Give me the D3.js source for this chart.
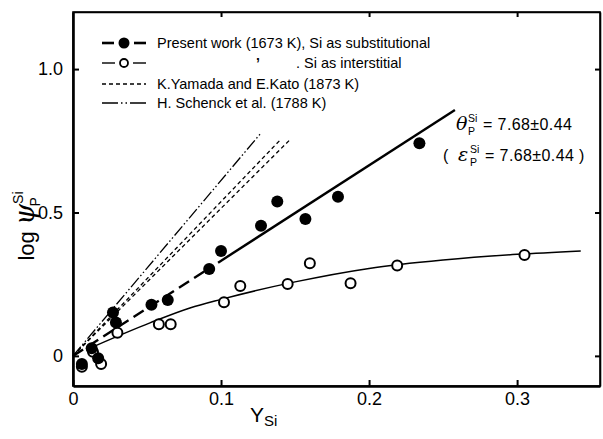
<!DOCTYPE html>
<html>
<head>
<meta charset="utf-8">
<script src="https://cdn.jsdelivr.net/npm/d3@7"></script>
<style>
  body { margin: 0; background: #fff; }
  svg { font-family: "Liberation Sans", Arial, sans-serif; }
</style>
</head>
<body>
<svg id="chart" width="603" height="439"></svg>
<script>
// substitutional (filled) points
const subX = [0.006, 0.0126, 0.017, 0.027, 0.029, 0.053, 0.064, 0.092, 0.100, 0.127, 0.138, 0.157, 0.179, 0.234];
const subY = [-0.028, 0.027, -0.008, 0.151, 0.116, 0.178, 0.195, 0.303, 0.366, 0.454, 0.538, 0.477, 0.555, 0.741];
// interstitial (open) points
const intX = [0.006, 0.0135, 0.019, 0.030, 0.058, 0.066, 0.102, 0.113, 0.145, 0.160, 0.1875, 0.219, 0.305];
const intY = [-0.038, 0.014, -0.028, 0.081, 0.110, 0.110, 0.187, 0.244, 0.251, 0.323, 0.253, 0.315, 0.352];
// fitted line for substitutional, dashed part then solid part
const fitDashX = [0, 0.094];
const fitDashY = [0, 0.312];
const fitSolidX = [0.098, 0.258];
const fitSolidY = [0.325, 0.857];
// curve through interstitial points
const curveX = [0.015, 0.052, 0.079, 0.100, 0.150, 0.200, 0.250, 0.300, 0.343];
const curveY = [0.035, 0.115, 0.167, 0.197, 0.258, 0.305, 0.334, 0.354, 0.366];
// literature lines (from origin)
const yamadaX = [[0, 0.140], [0, 0.147]];
const yamadaY = [[0, 0.753], [0, 0.756]];
const schenckX = [0, 0.127];
const schenckY = [0, 0.777];

const xTicks = [0, 0.1, 0.2, 0.3];
const xTickLabels = ["0", "0.1", "0.2", "0.3"];
const yTicks = [0, 0.5, 1.0];
const yTickLabels = ["0", "0.5", "1.0"];

const legendLabels = [
  "Present work (1673 K),  Si as substitutional",
  "",
  "K.Yamada and E.Kato (1873 K)",
  "H. Schenck et al. (1788 K)"
];

const svg = d3.select("#chart");
const plotL = 73, plotR = 600, plotT = 12, plotB = 386;

const x = d3.scaleLinear().domain([0, 0.356]).range([plotL, plotR]);
const y = d3.scaleLinear().domain([-0.105, 1.199]).range([plotB, plotT]);

const zip = (a, b) => a.map((v, i) => [v, b[i]]);
const line = d3.line().x(d => x(d[0])).y(d => y(d[1]));

// frame
svg.append("rect")
  .attr("x", plotL).attr("y", plotT)
  .attr("width", plotR - plotL).attr("height", plotB - plotT)
  .attr("fill", "none").attr("stroke", "#000").attr("stroke-width", 1.6);

// axes
const xAxis = svg.append("g")
  .attr("transform", `translate(0,${plotB})`)
  .call(d3.axisBottom(x).tickValues(xTicks).tickSizeInner(-6).tickSizeOuter(0)
    .tickPadding(6).tickFormat((d, i) => xTickLabels[i]));
xAxis.select(".domain").attr("stroke-width", 2.6);
xAxis.selectAll("line").attr("stroke-width", 2);
xAxis.selectAll("text").attr("font-size", 18).attr("fill", "#000");

const xAxisTop = svg.append("g")
  .attr("transform", `translate(0,${plotT})`)
  .call(d3.axisTop(x).tickValues(xTicks.slice(1)).tickSizeInner(-5).tickSizeOuter(0).tickFormat(""));
xAxisTop.select(".domain").attr("stroke-width", 1.6);
xAxisTop.selectAll("line").attr("stroke-width", 2);

const yAxis = svg.append("g")
  .attr("transform", `translate(${plotL},0)`)
  .call(d3.axisLeft(y).tickValues(yTicks).tickSizeInner(-6).tickSizeOuter(0)
    .tickPadding(10).tickFormat((d, i) => yTickLabels[i]));
yAxis.select(".domain").attr("stroke-width", 2.6);
yAxis.selectAll("line").attr("stroke-width", 2);
yAxis.selectAll("text").attr("font-size", 18).attr("fill", "#000");

const yAxisRight = svg.append("g")
  .attr("transform", `translate(${plotR},0)`)
  .call(d3.axisRight(y).tickValues(yTicks).tickSizeInner(-5).tickSizeOuter(0).tickFormat(""));
yAxisRight.select(".domain").attr("stroke-width", 1.6);
yAxisRight.selectAll("line").attr("stroke-width", 2);

// literature lines
yamadaX.forEach((xs, i) => {
  svg.append("path").attr("d", line(zip(xs, yamadaY[i])))
    .attr("fill", "none").attr("stroke", "#000").attr("stroke-width", 1.3)
    .attr("stroke-dasharray", "4,3");
});
svg.append("path").attr("d", line(zip(schenckX, schenckY)))
  .attr("fill", "none").attr("stroke", "#000").attr("stroke-width", 1.3)
  .attr("stroke-dasharray", "12,2.5,1.5,2.5,1.5,2.5");

// fit lines
svg.append("path").attr("d", line(zip(fitDashX, fitDashY)))
  .attr("fill", "none").attr("stroke", "#000").attr("stroke-width", 2.4)
  .attr("stroke-dasharray", "12,6");
svg.append("path").attr("d", line(zip(fitSolidX, fitSolidY)))
  .attr("fill", "none").attr("stroke", "#000").attr("stroke-width", 2.4);

svg.append("path")
  .attr("d", d3.line().x(d => x(d[0])).y(d => y(d[1])).curve(d3.curveMonotoneX)(zip(curveX, curveY)))
  .attr("fill", "none").attr("stroke", "#000").attr("stroke-width", 1.5);

// points
svg.selectAll("circle.open")
  .data(zip(intX, intY))
  .enter().append("circle")
  .attr("class", "open")
  .attr("cx", d => x(d[0])).attr("cy", d => y(d[1]))
  .attr("r", 5).attr("fill", "#fff").attr("stroke", "#000").attr("stroke-width", 2);

svg.selectAll("circle.filled")
  .data(zip(subX, subY))
  .enter().append("circle")
  .attr("class", "filled")
  .attr("cx", d => x(d[0])).attr("cy", d => y(d[1]))
  .attr("r", 6).attr("fill", "#000");

// legend
const lg = svg.append("g");
const rowY = [43, 63, 84, 103];
const symX0 = 102, symX1 = 146, textX = 157;

lg.append("line").attr("x1", symX0).attr("x2", symX0 + 12).attr("y1", rowY[0]).attr("y2", rowY[0])
  .attr("stroke", "#000").attr("stroke-width", 2.6);
lg.append("line").attr("x1", symX1 - 12).attr("x2", symX1).attr("y1", rowY[0]).attr("y2", rowY[0])
  .attr("stroke", "#000").attr("stroke-width", 2.6);
lg.append("circle").attr("cx", (symX0 + symX1) / 2).attr("cy", rowY[0]).attr("r", 5.5).attr("fill", "#000");

lg.append("line").attr("x1", symX0).attr("x2", symX0 + 13).attr("y1", rowY[1]).attr("y2", rowY[1])
  .attr("stroke", "#000").attr("stroke-width", 1.4);
lg.append("line").attr("x1", symX1 - 13).attr("x2", symX1).attr("y1", rowY[1]).attr("y2", rowY[1])
  .attr("stroke", "#000").attr("stroke-width", 1.4);
lg.append("circle").attr("cx", (symX0 + symX1) / 2).attr("cy", rowY[1]).attr("r", 4)
  .attr("fill", "#fff").attr("stroke", "#000").attr("stroke-width", 1.8);

lg.append("line").attr("x1", symX0).attr("x2", symX1).attr("y1", rowY[2]).attr("y2", rowY[2])
  .attr("stroke", "#000").attr("stroke-width", 1.3).attr("stroke-dasharray", "4,3");
lg.append("line").attr("x1", symX0).attr("x2", symX1).attr("y1", rowY[3]).attr("y2", rowY[3])
  .attr("stroke", "#000").attr("stroke-width", 1.3).attr("stroke-dasharray", "16,3,1.5,3,1.5,3,16");

lg.selectAll("text.lab")
  .data(legendLabels)
  .enter().append("text")
  .attr("class", "lab")
  .attr("x", textX).attr("y", (d, i) => rowY[i] + 5)
  .attr("font-size", 14.5)
  .text(d => d);

lg.append("text").attr("x", 256).attr("y", rowY[1] + 5).attr("font-size", 14).attr("font-weight", "bold").text("\u02BC");
lg.append("text").attr("x", 296).attr("y", rowY[1] + 5).attr("font-size", 14.5).text(".  Si as interstitial");

// annotation: symbol, stacked sup/sub, value
function coeff(gx, gy, pre, sym, value) {
  const g = svg.append("g");
  if (pre) g.append("text").attr("x", gx - 15).attr("y", gy).attr("font-size", 16).text(pre);
  g.append("text").attr("x", gx).attr("y", gy)
    .attr("font-style", "italic").attr("font-size", 19).attr("font-family", "DejaVu Serif").text(sym);
  g.append("text").attr("x", gx + 12).attr("y", gy - 8).attr("font-size", 10.5).text("Si");
  g.append("text").attr("x", gx + 12).attr("y", gy + 5).attr("font-size", 10.5).text("P");
  g.append("text").attr("x", gx + 27).attr("y", gy).attr("font-size", 16)
    .attr("letter-spacing", 0.4).text(value);
}
coeff(456, 130, "", "\u03B8", "= 7.68\u00B10.44");
coeff(458, 161, "(", "\u03B5", "= 7.68\u00B10.44  )");

// axis titles
const yl = svg.append("text")
  .attr("transform", "translate(34,226) rotate(-90)")
  .attr("text-anchor", "middle")
  .attr("font-size", 22);
yl.append("tspan").text("log ");
yl.append("tspan").attr("font-family", "DejaVu Serif").attr("font-style", "italic").attr("font-size", 27).text("\u03C8");
yl.append("tspan").attr("font-size", 14).attr("dy", -11).text("Si");
yl.append("tspan").attr("font-size", 14).attr("dx", -15).attr("dy", 17).text("P");

const xl = svg.append("text")
  .attr("x", 250).attr("y", 422)
  .attr("font-size", 21);
xl.append("tspan").text("Y");
xl.append("tspan").attr("font-size", 15).attr("dy", 4).text("Si");
</script>
</body>
</html>
